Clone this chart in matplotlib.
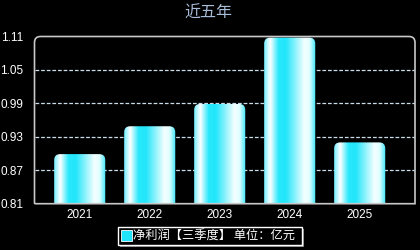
import matplotlib
matplotlib.use('Agg')
import matplotlib.pyplot as plt
from matplotlib.patches import FancyBboxPatch, PathPatch
from matplotlib.path import Path
from matplotlib.colors import LinearSegmentedColormap
import numpy as np

plt.rcParams['font.family'] = ['Noto Sans CJK SC', 'DejaVu Sans']

# data
years = ['2021', '2022', '2023', '2024', '2025']
profit = [0.899, 0.949, 0.989, 1.108, 0.920]
yticks = [0.81, 0.87, 0.93, 0.99, 1.05, 1.11]
title = '近五年'
legend_label = '净利润【三季度】 单位：亿元'

W, H = 420, 250
fig = plt.figure(figsize=(W / 100, H / 100), dpi=100, facecolor='black')

# plot box in pixels (from top-left)
px_l, px_r, px_t, px_b = 34.5, 415, 36.5, 203.7
ax = fig.add_axes([px_l / W, 1 - px_b / H, (px_r - px_l) / W, (px_b - px_t) / H])
ax.set_facecolor('black')

x = np.arange(len(years))
ax.set_xlim(-0.646, 4.79)
ax.set_ylim(yticks[0], yticks[-1])

# gradient for the bars (horizontal)
cmap = LinearSegmentedColormap.from_list('bar', [
    (0.0, '#70eeff'), (0.12, '#ffffff'), (0.28, '#2ae8fc'),
    (0.42, '#22e6fb'), (0.78, '#f4ffff'), (0.88, '#e0feff'),
    (1.0, '#38e6fa')])
grad = np.linspace(0, 1, 256).reshape(1, -1)

bw = 0.73
xunit = (px_r - px_l) / (4.79 + 0.646)
yunit = (px_b - px_t) / (yticks[-1] - yticks[0])
rad = 6 / xunit
for xi, v in zip(x, profit):
    box = FancyBboxPatch((xi - bw / 2, 0.78), bw, v - 0.78,
                         boxstyle='round,pad=0,rounding_size=%f' % rad,
                         mutation_aspect=xunit / yunit,
                         facecolor='none', edgecolor='none')
    ax.add_patch(box)
    im = ax.imshow(grad, cmap=cmap, aspect='auto',
                   extent=[xi - bw / 2, xi + bw / 2, 0.78, v], zorder=3)
    im.set_clip_path(box)

for t in yticks[1:-1]:
    ax.axhline(t, color='#c8dcea', lw=0.9, ls=(0, (3, 1.5)), zorder=1)

ax.set_xticks(x)
ax.set_xticklabels(years)
ax.set_yticks(yticks)
ax.set_yticklabels(['%.2f' % t for t in yticks])
ax.tick_params(colors='white', length=0, labelsize=8.5, pad=4)
ax.tick_params(axis='y', pad=8)
for lab in ax.get_xticklabels() + ax.get_yticklabels():
    lab.set_family(['Liberation Sans', 'DejaVu Sans'])
for s in ax.spines.values():
    s.set_visible(False)

# frame with rounded top corners, drawn in figure pixels
r = 6
pts = [(px_l, px_b), (px_l, px_t + r), (px_l, px_t), (px_l + r, px_t),
       (px_r - r, px_t), (px_r, px_t), (px_r, px_t + r), (px_r, px_b), (px_l, px_b)]
codes = [Path.MOVETO, Path.LINETO, Path.CURVE3, Path.CURVE3,
         Path.LINETO, Path.CURVE3, Path.CURVE3, Path.LINETO, Path.LINETO]
path = Path([(a / W, 1 - b / H) for a, b in pts], codes)
fig.patches.append(PathPatch(path, transform=fig.transFigure, facecolor='none',
                             edgecolor='#c8c8c8', lw=1.2))

fig.text(208 / W, 1 - 13 / H, title, color='#a8bcd8', fontsize=11.5,
         ha='center', va='center')

# legend with shadow
lx0, lx1, ly0, ly1 = 118, 302, 227, 245
fig.patches.append(plt.Rectangle(((lx0 + 2) / W, 1 - (ly1 + 2) / H), (lx1 - lx0) / W,
                                 (ly1 - ly0) / H, transform=fig.transFigure,
                                 facecolor='#808080', edgecolor='none'))
fig.patches.append(plt.Rectangle((lx0 / W, 1 - ly1 / H), (lx1 - lx0) / W,
                                 (ly1 - ly0) / H, transform=fig.transFigure,
                                 facecolor='black', edgecolor='white', lw=1))
fig.patches.append(plt.Rectangle((121 / W, 1 - 241 / H), 11 / W, 11 / H,
                                 transform=fig.transFigure,
                                 facecolor='#22e4f8', edgecolor='white', lw=0.6))
fig.text(133 / W, 1 - 236 / H, legend_label, color='white', fontsize=8.8,
         ha='left', va='center')

fig.savefig('out.png', dpi=100, facecolor='black')
